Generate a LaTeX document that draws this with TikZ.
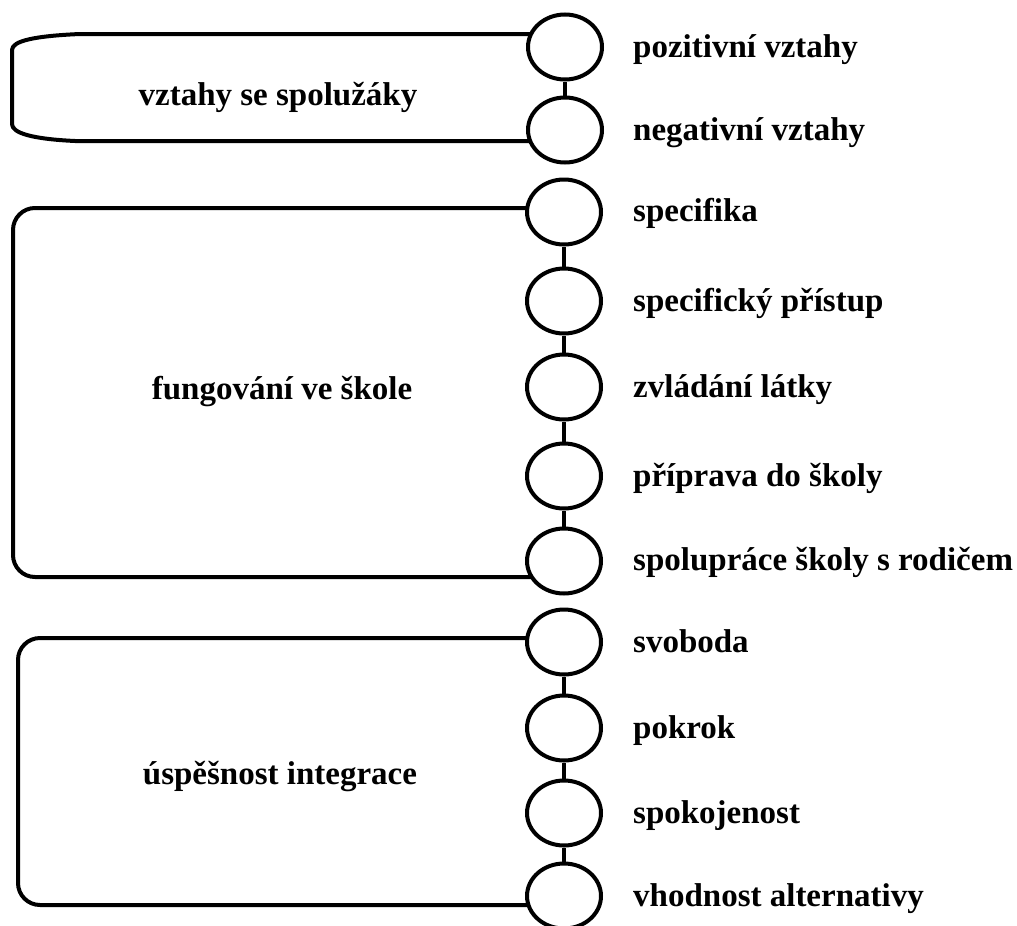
\documentclass[tikz,border=0pt]{standalone}
\usepackage{fontspec}
\setmainfont{Liberation Serif}
\usetikzlibrary{shapes.geometric,backgrounds}

\begin{document}
\begin{tikzpicture}[x=1pt,y=-1pt,
  leaf/.style={ellipse,draw,line width=4pt,fill=white,
    minimum width=74pt,minimum height=65pt,inner sep=0pt},
  itemtext/.style={anchor=base west,inner sep=0pt,
    font=\bfseries\fontsize{33}{38}\selectfont},
  grouptext/.style={anchor=base,inner sep=0pt,
    font=\bfseries\fontsize{33}{38}\selectfont},
  link/.style={line width=4pt},
  frame/.style={line width=4pt,line join=round}]

\useasboundingbox (0,0) rectangle (1017,926);

% sub-topic circles
\node[leaf] (e1)  at (565,47)  {};
\node[leaf] (e2)  at (565,130) {};
\node[leaf] (e3)  at (564,212) {};
\node[leaf] (e4)  at (564,301) {};
\node[leaf] (e5)  at (564,387) {};
\node[leaf] (e6)  at (564,476) {};
\node[leaf] (e7)  at (564,561) {};
\node[leaf] (e8)  at (564,642) {};
\node[leaf] (e9)  at (564,728) {};
\node[leaf] (e10) at (564,813) {};
\node[leaf] (e11) at (564,896) {};

% sub-topic labels
\node[itemtext] (t1)  at (633,57)  {pozitivní vztahy};
\node[itemtext] (t2)  at (633,140) {negativní vztahy};
\node[itemtext] (t3)  at (633,221) {specifika};
\node[itemtext] (t4)  at (633,311) {specifický přístup};
\node[itemtext] (t5)  at (633,397) {zvládání látky};
\node[itemtext] (t6)  at (633,486) {příprava do školy};
\node[itemtext] (t7)  at (633,570) {spolupráce školy s rodičem};
\node[itemtext] (t8)  at (633,652) {svoboda};
\node[itemtext] (t9)  at (633,738) {pokrok};
\node[itemtext] (t10) at (633,823) {spokojenost};
\node[itemtext] (t11) at (633,906) {vhodnost alternativy};

% main topics
\node[grouptext] (g1) at (278,105) {vztahy se spolužáky};
\node[grouptext] (g2) at (282,399) {fungování ve škole};
\node[grouptext] (g3) at (280,784) {úspěšnost integrace};

% chains of circles
\draw[link] (e1.south) -- (e2.north);
\draw[link] (e3.south) -- (e4.north);
\draw[link] (e4.south) -- (e5.north);
\draw[link] (e5.south) -- (e6.north);
\draw[link] (e6.south) -- (e7.north);
\draw[link] (e8.south) -- (e9.north);
\draw[link] (e9.south) -- (e10.north);
\draw[link] (e10.south) -- (e11.north);

% brackets joining each topic to its first and last circle
\coordinate (b1top) at (0,34);
\coordinate (b1bot) at (0,141);
\coordinate (b2top) at (0,208);
\coordinate (b2bot) at (0,577);
\coordinate (b3top) at (0,638);
\coordinate (b3bot) at (0,905);

\begin{scope}[on background layer]
  \draw[frame] (e1.center |- b1top) -- (80,34)
    .. controls (34,36) and (12,41) .. (12,50) -- (12,124)
    .. controls (12,133) and (32,139) .. (75,141) -- (e2.center |- b1bot);
  \draw[frame,rounded corners=22pt] (e3.center |- b2top) -- (13,208)
    -- (13,577) -- (e7.center |- b2bot);
  \draw[frame,rounded corners=22pt] (e8.center |- b3top) -- (18,638)
    -- (18,905) -- (e11.center |- b3bot);
\end{scope}
\end{tikzpicture}
\end{document}
